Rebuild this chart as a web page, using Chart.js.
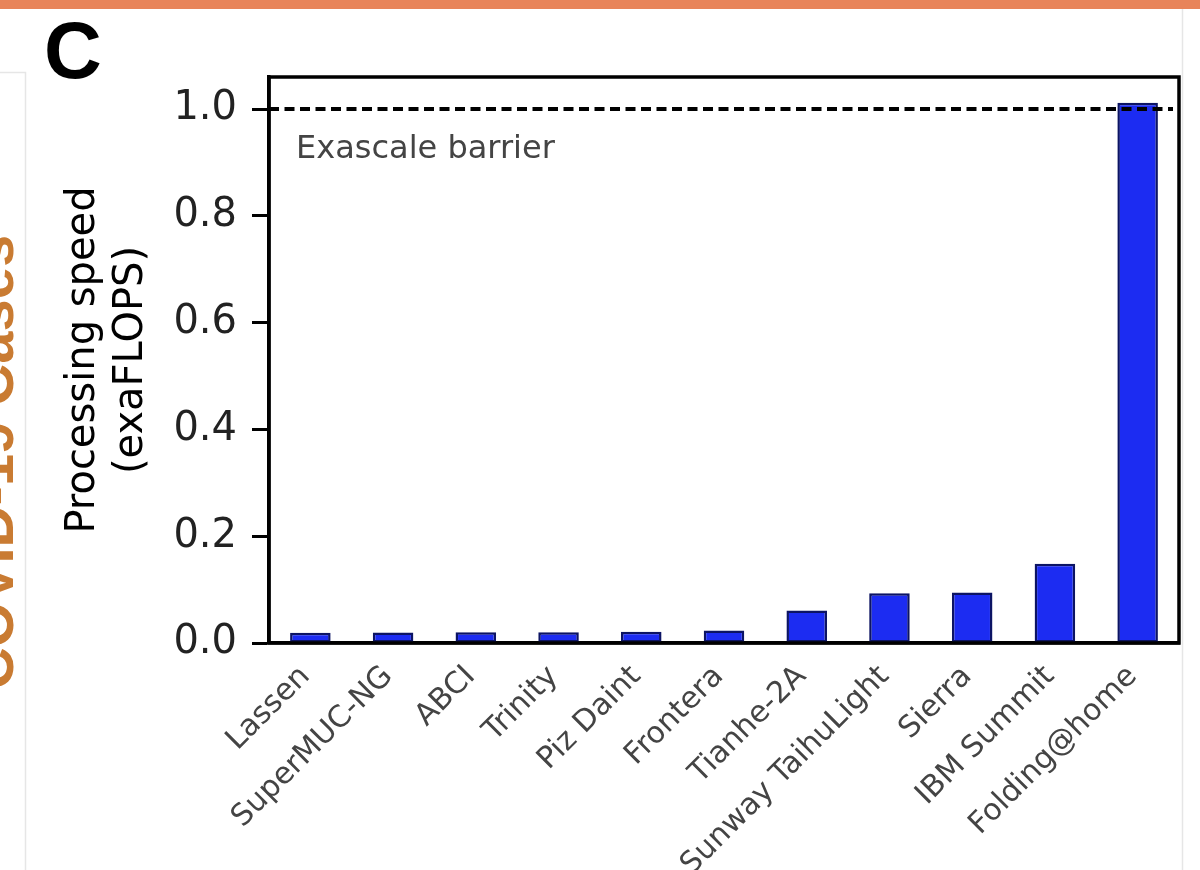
<!DOCTYPE html>
<html>
<head>
<meta charset="utf-8">
<script src="https://cdn.jsdelivr.net/npm/chart.js@4/dist/chart.umd.min.js"></script>
<style>
  html, body { margin: 0; padding: 0; background: #ffffff; }
  canvas { display: block; }
</style>
</head>
<body>
<canvas id="chart" width="1200" height="870"></canvas>
<script>
// data
const systems = ['Lassen', 'SuperMUC-NG', 'ABCI', 'Trinity', 'Piz Daint', 'Frontera',
    'Tianhe-2A', 'Sunway TaihuLight', 'Sierra', 'IBM Summit', 'Folding@home'];
const speedExaflops = [0.019, 0.0195, 0.0199, 0.0202, 0.0212, 0.0235,
    0.061, 0.093, 0.0946, 0.1486, 1.012];
const yTicks = [0.0, 0.2, 0.4, 0.6, 0.8, 1.0];
const exascaleBarrier = 1.0;

const colors = {
    bar: 'rgb(28, 44, 242)',
    barEdge: 'rgb(12, 20, 100)',
    axis: '#000000',
    tickText: '#222222',
    xText: '#444444',
    note: '#444444',
    strip: '#e8845a',
    sideText: '#c97b32',
    panelLine: '#e6e6e6'
};

const panelDecor = {
    id: 'panelDecor',
    beforeDraw(chart) {
        const ctx = chart.ctx;
        ctx.save();
        ctx.fillStyle = '#ffffff';
        ctx.fillRect(0, 0, chart.width, chart.height);

        // orange strip at the top of the page
        ctx.fillStyle = colors.strip;
        ctx.fillRect(0, 0, chart.width, 9);

        // faint borders of neighbouring panels
        ctx.strokeStyle = colors.panelLine;
        ctx.lineWidth = 1.5;
        ctx.beginPath();
        ctx.moveTo(0, 72.5);
        ctx.lineTo(25.5, 72.5);
        ctx.lineTo(25.5, chart.height);
        ctx.moveTo(1182.5, 9);
        ctx.lineTo(1182.5, chart.height);
        ctx.stroke();

        // cut-off label of the neighbouring panel
        ctx.translate(13, 462);
        ctx.rotate(-Math.PI / 2);
        ctx.fillStyle = colors.sideText;
        ctx.font = 'bold 58px "Liberation Sans", Arial, sans-serif';
        ctx.textAlign = 'center';
        ctx.textBaseline = 'alphabetic';
        ctx.fillText('COVID-19 Cases', 0, 0);
        ctx.restore();

        // panel letter
        ctx.save();
        ctx.fillStyle = '#000000';
        ctx.font = 'bold 80px "Liberation Sans", Arial, sans-serif';
        ctx.textBaseline = 'alphabetic';
        ctx.fillText('C', 44, 78);
        ctx.restore();
    },
    afterDatasetsDraw(chart) {
        const ctx = chart.ctx;
        const area = chart.chartArea;
        const y = chart.scales.y.getPixelForValue(exascaleBarrier);
        ctx.save();
        ctx.strokeStyle = colors.axis;
        ctx.lineWidth = 4;
        ctx.setLineDash([10, 5.5]);
        ctx.beginPath();
        ctx.moveTo(area.left, y);
        ctx.lineTo(area.right - 6, y);
        ctx.stroke();
        ctx.setLineDash([]);

        ctx.fillStyle = colors.note;
        ctx.font = '32px "DejaVu Sans", sans-serif';
        ctx.textBaseline = 'alphabetic';
        ctx.fillText('Exascale barrier', area.left + 27, y + 49);
        ctx.restore();
    },
    afterDraw(chart) {
        const ctx = chart.ctx;
        const a = chart.chartArea;
        ctx.save();
        ctx.strokeStyle = colors.axis;
        ctx.lineWidth = 3.5;
        ctx.strokeRect(a.left, a.top, a.right - a.left, a.bottom - a.top);
        ctx.restore();
    }
};

const ctx = document.getElementById('chart').getContext('2d');
new Chart(ctx, {
    type: 'bar',
    data: {
        labels: systems,
        datasets: [{
            label: 'Processing speed',
            data: speedExaflops,
            backgroundColor: colors.bar,
            borderColor: colors.barEdge,
            borderWidth: 2.5,
            borderSkipped: false,
            barPercentage: 0.49,
            categoryPercentage: 1.0
        }]
    },
    options: {
        responsive: false,
        animation: false,
        events: [],
        layout: {
            padding: { top: 77, right: 21, left: 0, bottom: 0 }
        },
        plugins: {
            legend: { display: false },
            tooltip: { enabled: false }
        },
        scales: {
            x: {
                type: 'category',
                offset: true,
                grid: { display: false, drawTicks: false },
                border: { display: true, color: colors.axis, width: 3.5 },
                ticks: {
                    autoSkip: false,
                    minRotation: 45,
                    maxRotation: 45,
                    padding: 16,
                    labelOffset: -5,
                    color: colors.xText,
                    font: { family: '"DejaVu Sans", sans-serif', size: 30 }
                },
                afterFit: (scale) => { scale.height = 227; }
            },
            y: {
                min: 0,
                max: 1.06,
                grid: {
                    display: true,
                    drawOnChartArea: false,
                    drawTicks: true,
                    tickLength: 17,
                    tickWidth: 3,
                    tickColor: colors.axis
                },
                border: { display: true, color: colors.axis, width: 3.5 },
                ticks: {
                    padding: 15,
                    color: colors.tickText,
                    font: { family: '"DejaVu Sans", sans-serif', size: 40 },
                    callback: (v) => Number(v).toFixed(1)
                },
                afterBuildTicks: (scale) => {
                    scale.ticks = yTicks.map(v => ({ value: v }));
                },
                title: {
                    display: true,
                    text: ['Processing speed', '(exaFLOPS)'],
                    color: '#000000',
                    font: { family: '"DejaVu Sans", sans-serif', size: 40, lineHeight: 1.2 },
                    padding: { top: 60, bottom: 0 }
                },
                afterFit: (scale) => { scale.width = 269; }
            }
        }
    },
    plugins: [panelDecor]
});
</script>
</body>
</html>
